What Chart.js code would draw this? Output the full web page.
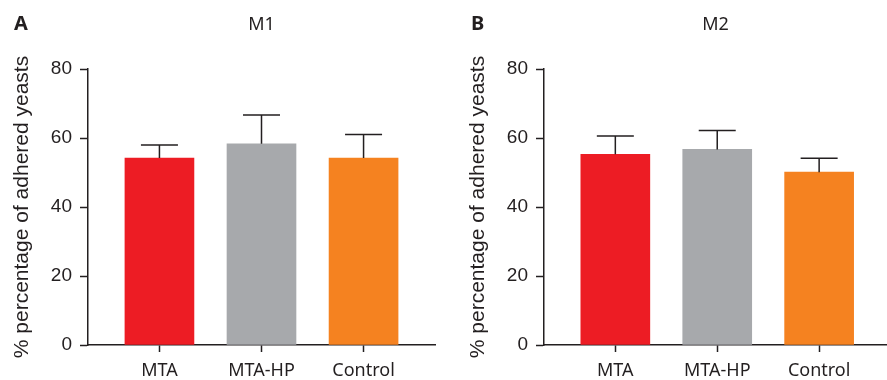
<!DOCTYPE html>
<html><head><meta charset="utf-8">
<script src="https://cdn.jsdelivr.net/npm/chart.js@4/dist/chart.umd.min.js"></script>
<style>
html,body{margin:0;padding:0;background:#fff;}
#wrap{position:relative;width:887px;height:380px;overflow:hidden;background:#fff;}
.panel{position:absolute;top:0;height:380px;}
canvas{display:block;}
</style></head><body>
<div id="wrap">
<div class="panel" style="left:0;width:440px"><canvas id="cA" width="440" height="380"></canvas></div>
<div class="panel" style="left:440px;width:447px"><canvas id="cB" width="447" height="380"></canvas></div>
</div>
<script>
const categories = ['MTA', 'MTA-HP', 'Control'];
const barColors = ['#ED1C24', '#A7A9AC', '#F58220'];
const yTickValues = [0, 20, 40, 60, 80];
const m1Means = [54.2, 58.3, 54.2];
const m1Errors = [3.8, 8.4, 6.8];
const m2Means = [55.3, 56.7, 50.1];
const m2Errors = [5.3, 5.5, 4.0];
const yTitle = '% percentage of adhered yeasts';

const INK = '#231F20';

const errorBarPlugin = {
  id: 'errorBars',
  afterDatasetsDraw(chart, args, opts) {
    const {ctx, scales: {x, y}} = chart;
    const means = opts.means, errs = opts.errors;
    ctx.save();
    ctx.strokeStyle = INK;
    ctx.lineWidth = 1.5;
    means.forEach((m, i) => {
      const px = x.getPixelForValue(i);
      const y0 = y.getPixelForValue(m);
      const y1 = y.getPixelForValue(m + errs[i]);
      ctx.beginPath();
      ctx.moveTo(px, y0);
      ctx.lineTo(px, y1);
      ctx.moveTo(px - opts.cap / 2, y1);
      ctx.lineTo(px + opts.cap / 2, y1);
      ctx.stroke();
    });
    ctx.restore();
  }
};

const panelTextPlugin = {
  id: 'panelText',
  afterDraw(chart, args, opts) {
    const {ctx, chartArea} = chart;
    ctx.save();
    ctx.fillStyle = INK;
    ctx.textBaseline = 'alphabetic';
    ctx.font = 'bold 20px "Noto Sans", sans-serif';
    ctx.textAlign = 'left';
    ctx.fillText(opts.letter, opts.letterX, 30);
    ctx.font = '18px "Noto Sans", sans-serif';
    ctx.textAlign = 'center';
    ctx.fillText(opts.title, (chartArea.left + chartArea.right) / 2, 30);
    ctx.restore();
  }
};

function makeChart(id, means, errors, cfg) {
  return new Chart(document.getElementById(id), {
    type: 'bar',
    data: {
      datasets: [{
        data: means.map((v, i) => ({x: i, y: v})),
        backgroundColor: barColors,
        borderWidth: 0,
        barThickness: 69
      }]
    },
    options: {
      responsive: false,
      animation: false,
      devicePixelRatio: 1,
      layout: {padding: {left: 0, top: 69, right: cfg.padRight, bottom: 0}},
      plugins: {
        legend: {display: false},
        tooltip: {enabled: false},
        title: {display: false},
        errorBars: {means: means, errors: errors, cap: 37},
        panelText: {letter: cfg.letter, letterX: cfg.letterX, title: cfg.title}
      },
      scales: {
        x: {
          type: 'linear',
          offset: false,
          min: -0.7,
          max: cfg.xMax,
          afterBuildTicks: s => { s.ticks = categories.map((c, i) => ({value: i})); },
          afterFit: s => { s.height = 35; },
          border: {color: INK, width: 1.5},
          grid: {offset: false, drawOnChartArea: false, drawTicks: true, tickLength: 7, tickWidth: 1.5, tickColor: INK},
          ticks: {
            autoSkip: false, maxRotation: 0, padding: 8,
            color: INK,
            font: {family: '"Noto Sans", sans-serif', size: 18},
            callback: v => categories[v]
          }
        },
        y: {
          min: 0, max: 80,
          afterBuildTicks: s => { s.ticks = yTickValues.map(v => ({value: v})); },
          afterFit: s => { s.width = cfg.axisLeft; },
          border: {color: INK, width: 1.5},
          grid: {drawOnChartArea: false, drawTicks: true, tickLength: 8, tickWidth: 1.5, tickColor: INK},
          ticks: {
            padding: 8,
            color: INK,
            font: {family: '"Liberation Sans", Arial, sans-serif', size: 19}
          },
          title: {
            display: true,
            text: yTitle,
            color: INK,
            font: {family: '"Liberation Sans", Arial, sans-serif', size: 21},
            padding: {top: cfg.titlePad, bottom: 0}
          }
        }
      }
    },
    plugins: [errorBarPlugin, panelTextPlugin]
  });
}

makeChart('cA', m1Means, m1Errors, {letter: 'A', letterX: 14, title: 'M1', padRight: 5, xMax: 2.7, axisLeft: 88, titlePad: 10});
makeChart('cB', m2Means, m2Errors, {letter: 'B', letterX: 31, title: 'M2', padRight: 0, xMax: 2.666, axisLeft: 104, titlePad: 26});
</script>
</body></html>
